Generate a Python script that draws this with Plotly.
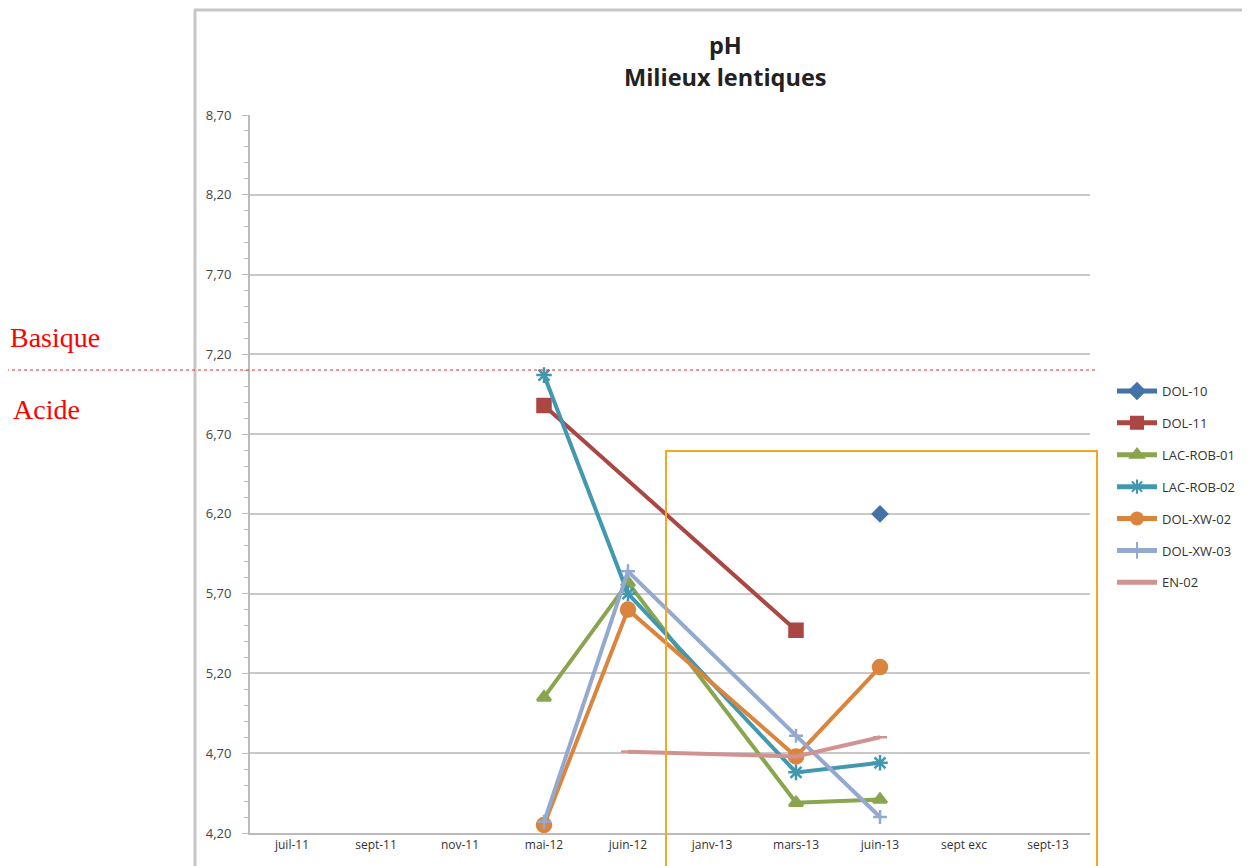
import plotly.graph_objects as go

categories = ["juil-11", "sept-11", "nov-11", "mai-12", "juin-12", "janv-13", "mars-13", "juin-13", "sept exc", "sept-13"]

series_names = ["DOL-10", "DOL-11", "LAC-ROB-01", "LAC-ROB-02", "DOL-XW-02", "DOL-XW-03", "EN-02"]
dol10 = [None, None, None, None, None, None, None, 6.20, None, None]
dol11 = [None, None, None, 6.88, None, None, 5.47, None, None, None]
lac_rob_01 = [None, None, None, 5.05, 5.77, None, 4.39, 4.41, None, None]
lac_rob_02 = [None, None, None, 7.07, 5.70, None, 4.58, 4.64, None, None]
dol_xw_02 = [None, None, None, 4.25, 5.60, None, 4.68, 5.24, None, None]
dol_xw_03 = [None, None, None, 4.27, 5.84, None, 4.81, 4.30, None, None]
en_02 = [None, None, None, None, 4.71, None, 4.68, 4.80, None, None]

series_values = [dol10, dol11, lac_rob_01, lac_rob_02, dol_xw_02, dol_xw_03, en_02]
colors = ["#4572A7", "#AA4643", "#89A54E", "#4198AF", "#DB843D", "#93A9CF", "#D19392"]
symbols = ["diamond", "square", "triangle-up", "asterisk-open", "circle", "cross-thin-open", "line-ew-open"]
msizes = [11, 13, 12, 13, 14, 10, 10]

fig = go.Figure()
for name, vals, col, sym, ms in zip(series_names, series_values, colors, symbols, msizes):
    xs = [c for c, v in zip(categories, vals) if v is not None]
    ys = [v for v in vals if v is not None]
    fig.add_trace(go.Scatter(
        x=xs, y=ys, name=name, mode="lines+markers",
        line=dict(color=col, width=4),
        marker=dict(symbol=sym, size=ms, color=col,
                    line=dict(color=col, width=2.5)),
        legendgroup=name,
    ))

# page body has an 8px margin; work in reference pixel coords and shift
OFF = 8
W, H = 1250, 866
L, R, T, B = 250 - OFF, 1090 - OFF, 115 - OFF, 833 - OFF

def px(xp):
    return (xp - OFF - L) / (R - L)

def py(yp):
    return (B - (yp - OFF)) / (B - T)

shapes = [
    dict(type="line", xref="paper", yref="paper", x0=px(195), x1=px(195), y0=py(900), y1=py(10),
         line=dict(color="#C6C6C6", width=3)),
    dict(type="line", xref="paper", yref="paper", x0=px(194), x1=px(1270), y0=py(10), y1=py(10),
         line=dict(color="#C6C6C6", width=3)),
    dict(type="rect", xref="paper", yref="paper", x0=px(666), x1=px(1097), y0=py(920), y1=py(451),
         line=dict(color="#F5A623", width=2), fillcolor="rgba(0,0,0,0)"),
    dict(type="line", xref="paper", yref="paper", x0=px(0), x1=px(1097), y0=py(370), y1=py(370),
         line=dict(color="#E03030", width=1, dash="dot")),
]

annotations = [
    dict(text="<b>pH</b>", xref="paper", yref="paper", x=px(725), y=py(45), showarrow=False,
         font=dict(family="Open Sans", size=23.5, color="#222222"), xanchor="center", yanchor="middle"),
    dict(text="<b>Milieux lentiques</b>", xref="paper", yref="paper", x=px(725), y=py(77), showarrow=False,
         font=dict(family="Open Sans", size=23.5, color="#222222"), xanchor="center", yanchor="middle"),
    dict(text="Basique", xref="paper", yref="paper", x=px(8), y=py(337), showarrow=False,
         font=dict(family="Liberation Serif", size=28, color="#FF0000"), xanchor="left", yanchor="middle"),
    dict(text="Acide", xref="paper", yref="paper", x=px(11), y=py(409), showarrow=False,
         font=dict(family="Liberation Serif", size=28, color="#FF0000"), xanchor="left", yanchor="middle"),
]

fig.update_layout(
    width=W, height=H,
    margin=dict(l=L, r=W - R, t=T, b=H - B, pad=0),
    plot_bgcolor="white", paper_bgcolor="white",
    separators=", ",
    showlegend=True,
    legend=dict(x=px(1112), y=py(376), xanchor="left", yanchor="top",
                font=dict(family="Open Sans", size=13, color="#333333"),
                itemwidth=40, itemsizing="constant", tracegroupgap=12, bgcolor="rgba(0,0,0,0)"),
    shapes=shapes,
    annotations=annotations,
    font=dict(family="Open Sans"),
)

fig.update_xaxes(
    type="category", categoryorder="array", categoryarray=categories,
    range=[-0.5, 9.5], showgrid=False, zeroline=False,
    showline=True, linecolor="#BBBBBB", linewidth=2,
    ticks="", tickfont=dict(family="Open Sans", size=12, color="#333333"),
)
fig.update_yaxes(
    range=[4.2, 8.7], tick0=4.2, dtick=0.5, tickformat=".2f",
    showgrid=True, gridcolor="#C8C8C8", gridwidth=2,
    zeroline=False, showline=True, linecolor="#BBBBBB", linewidth=2,
    ticks="outside", ticklen=6, tickcolor="#BBBBBB",
    minor=dict(dtick=0.1, ticks="outside", ticklen=4, tickcolor="#BBBBBB", showgrid=False),
    tickfont=dict(family="Open Sans", size=13, color="#444444"),
    ticklabelstandoff=8,
)

fig.write_html("out.html")
